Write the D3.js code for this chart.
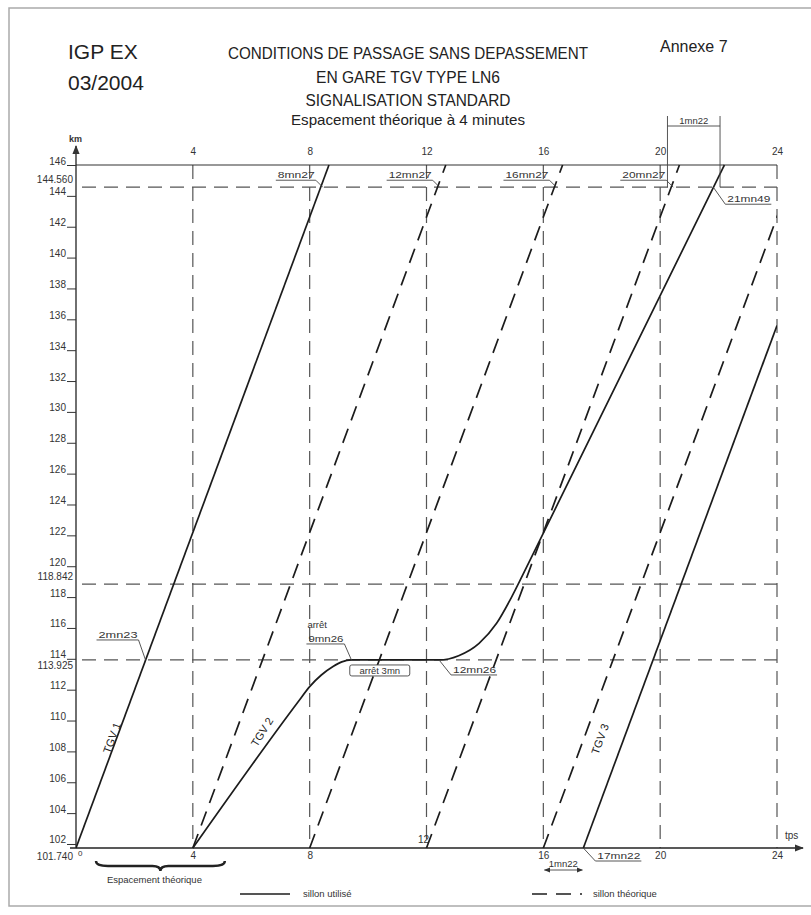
<!DOCTYPE html>
<meta charset="utf-8">
<script src="https://d3js.org/d3.v7.min.js"></script>
<style>
body { margin: 0; background: #fff; }
svg { font-family: "Liberation Sans", Arial, sans-serif; }
.axis path { display: none; }
.axis line { stroke: #333; stroke-width: 1; }
.axis text { fill: #333; font-size: 10px; }
.grid { stroke: #555; stroke-width: 1.2; stroke-dasharray: 14 8; fill: none; }
.sillon { stroke: #1c1c1c; stroke-width: 1.7; stroke-dasharray: 15 9; fill: none; }
.tgv { stroke: #1c1c1c; stroke-width: 1.7; fill: none; }
.note { font-size: 9.5px; fill: #333; }
.lead { stroke: #444; stroke-width: 0.9; fill: none; }
</style>
<body>
<script>

// --- data read from the sheet ---
var minutes = [4, 8, 12, 16, 20, 24];
var kmTicks = [102, 104, 106, 108, 110, 112, 114, 116, 118, 120, 122, 124,
               126, 128, 130, 132, 134, 136, 138, 140, 142, 144, 146];
var refKm = [144.560, 118.842, 113.925];
var refLabels = ["144.560", "118.842", "113.925"];
var sillonStarts = [4, 8, 12, 16];       // theoretical paths every 4 min
var sillonRun = 8.66;                     // min from 101.740 to 146
var tgv1 = [[0, 101.74], [8.66, 146]];
var tgv2 = [[4, 101.74], [7.6, 111.2], [8.0, 112.2], [8.4, 112.95], [8.8, 113.5],
            [9.1, 113.8], [9.43, 113.925], [12.43, 113.925],
            [13.1, 114.2], [13.8, 115.0], [14.4, 116.3], [14.9, 117.95],
            [15.3, 119.45], [16.5, 124.07], [22.2, 146]];
var tgv3 = [[17.37, 101.74], [24, 135.6]];

var notes = [
  {text: "2mn23",  t: 2.38,  km: 113.925},
  {text: "8mn27",  t: 8.45,  km: 144.56},
  {text: "12mn27", t: 12.45, km: 144.56},
  {text: "16mn27", t: 16.45, km: 144.56},
  {text: "20mn27", t: 20.45, km: 144.56},
  {text: "21mn49", t: 21.82, km: 144.56},
  {text: "9mn26",  t: 9.43,  km: 113.925},
  {text: "12mn26", t: 12.43, km: 113.925},
  {text: "17mn22", t: 17.37, km: 101.74}
];
var trainLabels = [
  {text: "TGV 1", t: 1.23,  km: 108.87, angle: -70},
  {text: "TGV 2", t: 6.37,  km: 109.26, angle: -58},
  {text: "TGV 3", t: 17.94, km: 108.8,  angle: -70}
];

var W = 811, H = 915;
var svg = d3.select("body").append("svg")
    .attr("width", W)
    .attr("height", H);

var x = d3.scaleLinear().domain([0, 24]).range([76, 777]);
var y = d3.scaleLinear().domain([101.74, 146]).range([848, 165]);

svg.append("defs").append("clipPath").attr("id", "plotClip")
  .append("rect")
    .attr("x", x(0)).attr("y", y(146) - 2)
    .attr("width", x(24) - x(0)).attr("height", y(101.74) - y(146) + 4);

svg.append("marker").attr("id", "arr")
    .attr("viewBox", "0 0 10 10").attr("refX", 9).attr("refY", 5)
    .attr("markerWidth", 7).attr("markerHeight", 7).attr("orient", "auto-start-reverse")
  .append("path").attr("d", "M0,1L10,5L0,9Z").attr("fill", "#333");

// page frame
svg.append("rect")
    .attr("x", 9).attr("y", 8).attr("width", 810).attr("height", 898)
    .attr("fill", "none").attr("stroke", "#aaa").attr("stroke-width", 1.5);

// titles
svg.append("text").attr("x", 68).attr("y", 59).attr("font-size", 21).attr("fill", "#222").text("IGP EX");
svg.append("text").attr("x", 68).attr("y", 90).attr("font-size", 21).attr("fill", "#222").text("03/2004");
svg.append("text").attr("x", 660).attr("y", 52).attr("font-size", 16).attr("fill", "#222").text("Annexe 7");

var titles = [
  {s: "CONDITIONS DE PASSAGE SANS DEPASSEMENT", y: 59, w: 360, f: 16},
  {s: "EN GARE TGV TYPE LN6", y: 83, w: 184, f: 16},
  {s: "SIGNALISATION STANDARD", y: 106, w: 205, f: 16},
  {s: "Espacement théorique à 4 minutes", y: 125, w: 234, f: 15}
];
svg.selectAll(".title").data(titles).enter().append("text")
    .attr("class", "title")
    .attr("x", function(d) { return 408 - d.w / 2; })
    .attr("y", function(d) { return d.y; })
    .attr("font-size", function(d) { return d.f; }).attr("fill", "#222")
    .attr("textLength", function(d) { return d.w; })
    .attr("lengthAdjust", "spacingAndGlyphs")
    .text(function(d) { return d.s; });

// grid
svg.selectAll(".vgrid").data(minutes).enter().append("line")
    .attr("class", "grid")
    .attr("x1", function(d) { return x(d); }).attr("x2", function(d) { return x(d); })
    .attr("y1", y(146)).attr("y2", y(101.74));

svg.selectAll(".hgrid").data(refKm).enter().append("line")
    .attr("class", "grid")
    .attr("x1", x(0) + 6).attr("x2", x(24))
    .attr("y1", function(d) { return y(d); }).attr("y2", function(d) { return y(d); });

// top frame line at 146
svg.append("line").attr("x1", x(0)).attr("x2", x(24)).attr("y1", y(146)).attr("y2", y(146))
    .attr("stroke", "#333").attr("stroke-width", 1.2);

// axes lines with arrows
svg.append("line").attr("x1", x(0)).attr("x2", x(0)).attr("y1", y(101.74)).attr("y2", 146)
    .attr("stroke", "#222").attr("stroke-width", 1.3).attr("marker-end", "url(#arr)");
svg.append("line").attr("x1", 70).attr("x2", 803).attr("y1", y(101.74)).attr("y2", y(101.74))
    .attr("stroke", "#222").attr("stroke-width", 1.3).attr("marker-end", "url(#arr)");
svg.append("text").attr("x", 69).attr("y", 142).attr("font-size", 9).attr("font-weight", "bold").attr("fill", "#333").text("km");
svg.append("text").attr("x", 785).attr("y", 839).attr("font-size", 10).attr("fill", "#333").text("tps");

// left axis
var yAxis = d3.axisLeft(y).tickValues(kmTicks).tickSize(9).tickPadding(1).tickFormat(d3.format("d"));
var gy = svg.append("g").attr("class", "axis").attr("transform", "translate(" + x(0) + ",0)").call(yAxis);
gy.selectAll("text").attr("dy", "-0.1em");

svg.selectAll(".reflab").data(refKm).enter().append("text")
    .attr("class", "axis")
    .attr("x", 73).attr("text-anchor", "end")
    .attr("y", function(d, i) { return y(d) + (i === 2 ? 9 : -4); })
    .attr("font-size", 10).attr("fill", "#333")
    .text(function(d, i) { return refLabels[i]; });
svg.append("text").attr("x", 73).attr("y", 860).attr("text-anchor", "end")
    .attr("font-size", 10).attr("fill", "#333").text("101.740");
svg.append("text").attr("x", 78).attr("y", 856)
    .attr("font-size", 8).attr("fill", "#333").text("0");

// top / bottom time labels
var xTop = d3.axisTop(x).tickValues(minutes).tickSize(0).tickPadding(10);
svg.append("g").attr("class", "axis").attr("transform", "translate(0," + y(146) + ")").call(xTop);

var xBot = d3.axisBottom(x).tickValues([4, 8, 16, 20, 24]).tickSize(0).tickPadding(4);
svg.append("g").attr("class", "axis").attr("transform", "translate(0," + y(101.74) + ")").call(xBot);
svg.append("text").attr("x", x(12) - 3).attr("y", 843).attr("text-anchor", "middle")
    .attr("font-size", 10).attr("fill", "#333").text("12");

// train paths
var line = d3.line().x(function(d) { return x(d[0]); }).y(function(d) { return y(d[1]); });
var smooth = d3.line().curve(d3.curveMonotoneX).x(function(d) { return x(d[0]); }).y(function(d) { return y(d[1]); });
var plot = svg.append("g").attr("clip-path", "url(#plotClip)");

plot.selectAll(".sillon").data(sillonStarts).enter().append("path")
    .attr("class", "sillon")
    .attr("d", function(s) { return line([[s, 101.74], [s + sillonRun, 146]]); });

plot.append("path").attr("class", "tgv").attr("d", line(tgv1));
plot.append("path").attr("class", "tgv").attr("d", smooth(tgv2));
plot.append("path").attr("class", "tgv").attr("d", line(tgv3));

svg.selectAll(".tgvlab").data(trainLabels).enter().append("text")
    .attr("transform", function(d) { return "translate(" + x(d.t) + "," + y(d.km) + ") rotate(" + d.angle + ")"; })
    .attr("text-anchor", "middle").attr("dy", "0.35em")
    .attr("font-size", 11).attr("fill", "#222")
    .text(function(d) { return d.text; });

// callouts
var calloutLayout = {
  "2mn23":  {side: "ul", w: 42, up: 20},
  "8mn27":  {side: "ul", w: 40, up: 7},
  "12mn27": {side: "ul", w: 46, up: 7},
  "16mn27": {side: "ul", w: 46, up: 7},
  "20mn27": {side: "ul", w: 46, up: 7},
  "9mn26":  {side: "ul", w: 38, up: 16},
  "21mn49": {side: "dr", w: 46, up: 17},
  "12mn26": {side: "dr", w: 46, up: 15},
  "17mn22": {side: "dr", w: 46, up: 13}
};
notes.forEach(function(n) {
  var L = calloutLayout[n.text];
  var ax = x(n.t), ay = y(n.km);
  var g = svg.append("g");
  if (L.side === "ul") {
    var ex = ax - 7, ey = ay - L.up;
    g.append("path").attr("class", "lead")
      .attr("d", "M" + (ex - L.w) + "," + ey + "H" + ex + "L" + ax + "," + ay);
    g.append("text").attr("class", "note").attr("x", ex - 1).attr("y", ey - 2)
      .attr("text-anchor", "end").attr("textLength", L.w - 3).attr("lengthAdjust", "spacingAndGlyphs")
      .text(n.text);
  } else {
    var sx = ax + 12, sy = ay + L.up;
    g.append("path").attr("class", "lead")
      .attr("d", "M" + ax + "," + ay + "L" + sx + "," + sy + "H" + (sx + L.w));
    g.append("text").attr("class", "note").attr("x", sx + 2).attr("y", sy - 2)
      .attr("textLength", L.w - 3).attr("lengthAdjust", "spacingAndGlyphs")
      .text(n.text);
  }
});
svg.append("text").attr("class", "note").attr("x", x(9.43) - 44).attr("y", y(113.925) - 32)
    .attr("font-size", 8.5).text("arrêt");

// "arrêt 3mn" box
var bx = x(10.4), by = y(113.925) + 11;
svg.append("rect").attr("x", bx - 30).attr("y", by - 6).attr("width", 60).attr("height", 11)
    .attr("rx", 2).attr("fill", "#fff").attr("stroke", "#444").attr("stroke-width", 0.9);
svg.append("text").attr("class", "note").attr("x", bx).attr("y", by + 3.5)
    .attr("text-anchor", "middle").attr("font-size", 9).text("arrêt 3mn");

// 1mn22 brackets
var topB = [20.25, 22.05];
topB.forEach(function(t) {
  svg.append("line").attr("class", "lead").attr("stroke-width", 1.1)
    .attr("x1", x(t)).attr("x2", x(t)).attr("y1", 116).attr("y2", y(144.56));
});
svg.append("line").attr("class", "lead")
    .attr("x1", x(topB[0])).attr("x2", x(topB[1])).attr("y1", 126).attr("y2", 126);
svg.append("text").attr("class", "note").attr("x", (x(topB[0]) + x(topB[1])) / 2).attr("y", 124)
    .attr("text-anchor", "middle").text("1mn22");

var botB = [16, 17.37];
svg.append("line").attr("class", "lead")
    .attr("x1", x(botB[0]) + 1).attr("x2", x(botB[1]) - 1).attr("y1", 870).attr("y2", 870)
    .attr("marker-start", "url(#arr)").attr("marker-end", "url(#arr)");
svg.append("text").attr("class", "note").attr("x", (x(botB[0]) + x(botB[1])) / 2).attr("y", 867)
    .attr("text-anchor", "middle").text("1mn22");

// brace "Espacement théorique"
var b0 = x(0) + 20, b1 = x(4) + 32, bm = (b0 + b1) / 2, byb = 859;
svg.append("path")
    .attr("d", "M" + b0 + "," + (byb + 2) + "Q" + b0 + "," + (byb + 7) + " " + (b0 + 12) + "," + (byb + 7) +
      "H" + (bm - 8) + "Q" + bm + "," + (byb + 7) + " " + bm + "," + (byb + 12) +
      "Q" + bm + "," + (byb + 7) + " " + (bm + 8) + "," + (byb + 7) +
      "H" + (b1 - 12) + "Q" + b1 + "," + (byb + 7) + " " + b1 + "," + (byb + 2))
    .attr("fill", "none").attr("stroke", "#222").attr("stroke-width", 2.4);
svg.append("text").attr("class", "note").attr("x", bm - 6).attr("y", 883)
    .attr("text-anchor", "middle").attr("font-size", 9).text("Espacement théorique");

// legend
svg.append("line").attr("class", "tgv").attr("stroke-width", 1.4)
    .attr("x1", 240).attr("x2", 290).attr("y1", 894).attr("y2", 894);
svg.append("text").attr("class", "note").attr("x", 303).attr("y", 897).attr("font-size", 9).text("sillon utilisé");
svg.append("line").attr("class", "sillon").attr("stroke-width", 1.4).attr("stroke-dasharray", "14 10")
    .attr("x1", 532).attr("x2", 582).attr("y1", 894).attr("y2", 894);
svg.append("text").attr("class", "note").attr("x", 593).attr("y", 897).attr("font-size", 9).text("sillon théorique");

</script>
</body>
